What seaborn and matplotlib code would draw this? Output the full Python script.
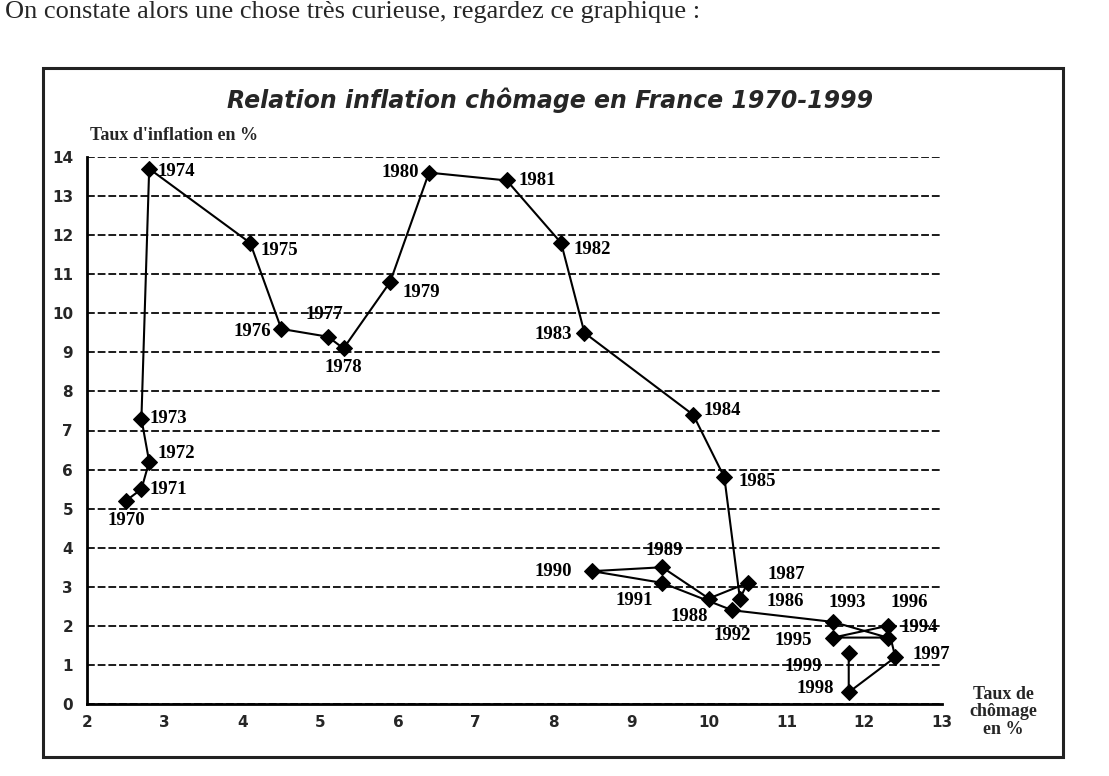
import matplotlib
matplotlib.use("Agg")
import matplotlib.pyplot as plt
import seaborn as sns
import pandas as pd
from matplotlib.patches import Rectangle

# valeurs
annees = list(range(1970, 2000))
chomage = [2.5, 2.7, 2.8, 2.7, 2.8, 4.1, 4.5, 5.1, 5.3, 5.9,
           6.4, 7.4, 8.1, 8.4, 9.8, 10.2, 10.4, 10.5, 10.0, 9.4,
           8.5, 9.4, 10.3, 11.6, 12.3, 11.6, 12.3, 12.4, 11.8, 11.8]
inflation = [5.2, 5.5, 6.2, 7.3, 13.7, 11.8, 9.6, 9.4, 9.1, 10.8,
             13.6, 13.4, 11.8, 9.5, 7.4, 5.8, 2.7, 3.1, 2.7, 3.5,
             3.4, 3.1, 2.4, 2.1, 1.7, 1.7, 2.0, 1.2, 0.3, 1.3]
x_ticks = list(range(2, 14))
y_ticks = list(range(0, 15))

# decalage des etiquettes (pixels) et alignement
offsets = {
    1970: (0, -20, "center"), 1971: (8, 0, "left"), 1972: (8, 8, "left"),
    1973: (8, 0, "left"), 1974: (8, -3, "left"), 1975: (10, -8, "left"),
    1976: (-10, -3, "right"), 1977: (-4, 22, "center"), 1978: (0, -19, "center"),
    1979: (12, -10, "left"), 1980: (-10, 0, "right"), 1981: (12, 0, "left"),
    1982: (12, -7, "left"), 1983: (-12, -2, "right"), 1984: (10, 4, "left"),
    1985: (14, -4, "left"), 1986: (27, -3, "left"), 1987: (20, 8, "left"),
    1988: (-20, -18, "center"), 1989: (2, 17, "center"), 1990: (-20, 0, "right"),
    1991: (-28, -18, "center"), 1992: (0, -25, "center"), 1993: (14, 19, "center"),
    1994: (13, 10, "left"), 1995: (-21, -3, "right"), 1996: (22, 23, "center"),
    1997: (17, 3, "left"), 1998: (-15, 4, "right"), 1999: (-27, -13, "right"),
}

df = pd.DataFrame({"annee": annees, "chomage": chomage, "inflation": inflation})

sns.set_theme(style="white")
plt.rcParams["font.family"] = ["DejaVu Sans"]

fig = plt.figure(figsize=(11.09, 7.76), dpi=100)
ax = fig.add_axes([87 / 1109, 1 - 704 / 776, (942 - 87) / 1109, (704 - 157) / 776])

sns.lineplot(data=df, x="chomage", y="inflation", sort=False, estimator=None,
             color="black", linewidth=1.5, marker="D", markersize=8,
             markeredgecolor="black", ax=ax)

for a, xv, yv in zip(annees, chomage, inflation):
    dx, dy, ha = offsets[a]
    ax.annotate(str(a), (xv, yv), xytext=(dx, dy), textcoords="offset pixels",
                ha=ha, va="center", fontsize=13.5, fontweight="bold",
                family="Liberation Serif", color="black")

ax.set_xlim(2, 13)
ax.set_ylim(0, 14)
ax.set_xticks(x_ticks)
ax.set_yticks(y_ticks)
ax.set_xticklabels([str(t) for t in x_ticks], fontsize=11, fontweight="bold")
ax.set_yticklabels([str(t) for t in y_ticks], fontsize=11, fontweight="bold")
ax.tick_params(axis="y", direction="out", length=6, width=1.5, color="black", pad=4)
ax.tick_params(axis="x", direction="inout", length=8, width=1.5, color="black", pad=4)
ax.grid(axis="y", color="#1a1a1a", linestyle=(0, (4, 1.5)), linewidth=1.4)
ax.set_axisbelow(True)
for s in ["top", "right"]:
    ax.spines[s].set_visible(False)
for s in ["left", "bottom"]:
    ax.spines[s].set_color("black")
    ax.spines[s].set_linewidth(2)
ax.set_xlabel("")
ax.set_ylabel("")

fig.text(90 / 1109, 1 - 136 / 776, "Taux d'inflation en %", fontsize=13,
         fontweight="bold", family="Liberation Serif", va="center", ha="left")
fig.text(1003 / 1109, 1 - 712 / 776, "Taux de\nchômage\nen %", fontsize=13,
         fontweight="bold", family="Liberation Serif", va="center", ha="center",
         linespacing=1.05)
fig.text(550 / 1109, 1 - 100 / 776, "Relation inflation chômage en France 1970-1999",
         fontsize=17, fontweight="bold", style="italic",
         family="DejaVu Sans", ha="center", va="center")
fig.text(5 / 1109, 1 - 1 / 776,
         "On constate alors une chose très curieuse, regardez ce graphique :",
         fontsize=19, family="Liberation Serif", ha="left", va="top")

fig.patches.append(Rectangle((43 / 1109, 1 - 757 / 776), (1063 - 43) / 1109,
                             (757 - 68) / 776, transform=fig.transFigure,
                             fill=False, edgecolor="#222222", linewidth=2.2))

fig.savefig("out.png", dpi=100, facecolor="white")
